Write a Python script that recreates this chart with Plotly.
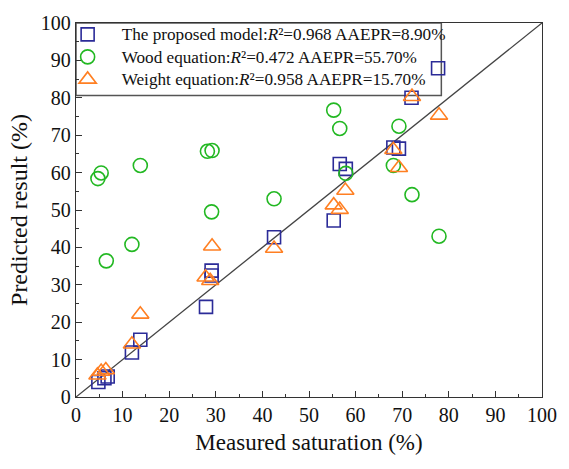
import plotly.graph_objects as go

# Proposed model
prop_x = [77.7, 72.0, 68.1, 69.3, 56.6, 57.9, 55.3, 42.5, 29.1, 29.1, 27.9, 13.8, 12.0, 4.8, 6.1, 6.8]
prop_y = [87.9, 80.0, 66.7, 66.4, 62.3, 61.0, 47.2, 42.7, 33.8, 32.5, 24.1, 15.3, 11.9, 4.0, 5.0, 5.5]
# Wood equation
wood_x = [4.7, 5.4, 13.8, 12.0, 6.5, 28.2, 29.2, 29.1, 42.5, 55.3, 56.6, 57.9, 69.3, 68.1, 72.1, 77.9]
wood_y = [58.4, 59.9, 61.9, 40.8, 36.4, 65.7, 65.9, 49.5, 53.0, 76.7, 71.8, 59.8, 72.4, 61.9, 54.1, 43.0]
# Weight equation
weight_x = [77.9, 72.1, 68.1, 69.3, 57.8, 55.3, 56.6, 42.5, 29.2, 27.8, 28.8, 13.8, 12.0, 4.6, 5.4, 6.4]
weight_y = [75.3, 80.3, 66.1, 61.3, 55.2, 51.3, 50.1, 39.7, 40.3, 32.0, 31.1, 22.1, 14.1, 5.8, 6.8, 7.2]

line_x = [0, 100]
line_y = [0, 100]

FONT = "Liberation Serif, Times New Roman, serif"


def leg(s):
    return '<span style="font-size:17.2px">' + s + '</span>'


fig = go.Figure()
fig.add_trace(go.Scatter(x=line_x, y=line_y, mode="lines", line=dict(color="#444444", width=1.3),
                         showlegend=False, hoverinfo="skip"))
fig.add_trace(go.Scatter(
    x=prop_x, y=prop_y, mode="markers",
    name=leg("The proposed model:<i>R</i>²=0.968 AAEPR=8.90%"),
    marker=dict(symbol="square-open", size=13, color="#2B2B98", line=dict(width=1.6))))
fig.add_trace(go.Scatter(
    x=wood_x, y=wood_y, mode="markers",
    name=leg("Wood equation:<i>R</i>²=0.472 AAEPR=55.70%"),
    marker=dict(symbol="circle-open", size=14, color="#22B822", line=dict(width=1.6))))
fig.add_trace(go.Scatter(
    x=weight_x, y=weight_y, mode="markers",
    name=leg("Weight equation:<i>R</i>²=0.958 AAEPR=15.70%"),
    marker=dict(symbol="triangle-up-open", size=15, color="#FF7F22", line=dict(width=1.6))))

axis_common = dict(
    range=[0, 100], dtick=10, ticks="inside", ticklen=6, tickwidth=1.2, tickcolor="#333333",
    showline=True, linecolor="#333333", linewidth=1.3, mirror=True, showgrid=False, zeroline=False,
    tickfont=dict(family=FONT, size=20, color="#111111"),
    minor=dict(ticks="inside", ticklen=3, dtick=5, tickcolor="#333333", tickwidth=1.2),
)

fig.update_layout(
    width=569, height=469,
    margin=dict(l=76, r=17, t=16, b=72),
    paper_bgcolor="white", plot_bgcolor="white",
    font=dict(family=FONT, color="#111111"),
    xaxis=dict(**axis_common, title=dict(text="Measured saturation (%)", font=dict(family=FONT, size=23), standoff=8)),
    yaxis=dict(**axis_common, title=dict(text="Predicted result (%)", font=dict(family=FONT, size=24), standoff=6)),
    legend=dict(x=-0.048, y=1.013, xanchor="left", yanchor="top", bgcolor="rgba(0,0,0,0)",
                borderwidth=0, itemwidth=58,
                font=dict(family=FONT, size=15, color="#111111"),
                itemsizing="trace", tracegroupgap=0),
    showlegend=True,
    shapes=[dict(type="rect", xref="paper", yref="paper", x0=0, x1=0.784, y0=0.806, y1=1,
                 line=dict(color="#555555", width=1.5), fillcolor="white", layer="below")],
)

fig.write_html("out.html")
